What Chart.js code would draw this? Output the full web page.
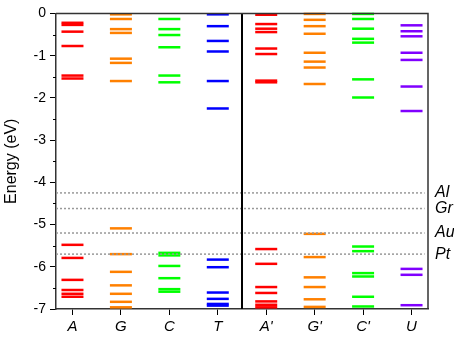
<!DOCTYPE html>
<html>
<head>
<meta charset="utf-8">
<script src="https://cdn.jsdelivr.net/npm/chart.js@4/dist/chart.umd.min.js"></script>
<style>
  body { margin: 0; background: #fff; }
  #wrap { width: 454px; height: 337px; }
</style>
</head>
<body>
<div id="wrap"><canvas id="mycanvas"></canvas></div>
<script>
// categories on the x axis
var categories = ['A', 'G', 'C', 'T', "A'", "G'", "C'", 'U'];

// energy levels (eV) for each category
var levelsA  = [-0.22, -0.27, -0.43, -0.77, -1.47, -1.54, -5.48, -5.79, -6.31, -6.55, -6.64, -6.71];
var levelsG  = [-0.02, -0.13, -0.37, -0.46, -1.07, -1.17, -1.60, -5.09, -5.70, -6.12, -6.44, -6.64, -6.83, -6.96];
var levelsC  = [-0.13, -0.37, -0.51, -0.80, -1.47, -1.63, -5.67, -5.73, -5.98, -6.27, -6.53, -6.59];
var levelsT  = [-0.02, -0.30, -0.65, -0.90, -1.60, -2.25, -5.83, -6.01, -6.61, -6.76, -6.88, -6.92];
var levelsA2 = [-0.03, -0.25, -0.36, -0.44, -0.83, -0.96, -1.59, -1.63, -5.58, -5.93, -6.48, -6.62, -6.82, -6.90, -6.96];
var levelsG2 = [-0.01, -0.15, -0.30, -0.48, -0.93, -1.14, -1.28, -1.67, -5.22, -5.77, -6.25, -6.48, -6.77, -6.95];
var levelsC2 = [-0.01, -0.13, -0.36, -0.60, -0.69, -1.56, -1.99, -5.52, -5.63, -6.15, -6.23, -6.71, -6.94];
var levelsU  = [-0.28, -0.42, -0.54, -0.93, -1.10, -1.73, -2.31, -6.05, -6.19, -6.91];

var allLevels = [levelsA, levelsG, levelsC, levelsT, levelsA2, levelsG2, levelsC2, levelsU];
var colors = ['#FF0000', '#FF8000', '#00FF00', '#0000FF', '#FF0000', '#FF8000', '#00FF00', '#8000FF'];

// electrode work functions
var electrodes = ['Al', 'Gr', 'Au', 'Pt'];
var workFunctions = [-4.25, -4.62, -5.20, -5.70];

var xMin = -0.34, xMax = 7.34;

var datasets = [];
for (var i in allLevels) {
	datasets.push({
		type: 'scatter',
		data: allLevels[i].map(function(e){ return {x: Number(i), y: e}; }),
		pointStyle: 'line',
		pointRadius: 11,
		pointHoverRadius: 11,
		pointBorderWidth: 2.5,
		borderColor: colors[i],
		backgroundColor: colors[i],
		order: 2,
		clip: false
	});
}
for (var j in workFunctions) {
	datasets.push({
		type: 'line',
		data: [{x: xMin, y: workFunctions[j]}, {x: 7.27, y: workFunctions[j]}],
		borderColor: '#999999',
		borderWidth: 1.5,
		borderDash: [2, 2],
		pointRadius: 0,
		order: 1
	});
}
// divider between the two groups
datasets.push({
	type: 'line',
	data: [{x: 3.5, y: 0}, {x: 3.5, y: -7}],
	borderColor: '#000000',
	borderWidth: 2,
	pointRadius: 0,
	order: 0
});

var extras = {
	id: 'extras',
	afterDraw: function(chart) {
		var ctx = chart.ctx;
		var a = chart.chartArea;
		var ys = chart.scales.y;
		ctx.save();
		// top and right frame
		ctx.strokeStyle = '#333333';
		ctx.lineWidth = 1.5;
		ctx.beginPath();
		ctx.moveTo(a.left, a.top);
		ctx.lineTo(a.right, a.top);
		ctx.lineTo(a.right, a.bottom);
		ctx.stroke();
		// minor y ticks
		ctx.strokeStyle = '#000000';
		ctx.lineWidth = 1;
		for (var v = -6.5; v < 0; v += 1) {
			var py = Math.round(ys.getPixelForValue(v)) + 0.5;
			ctx.beginPath();
			ctx.moveTo(a.left - 3, py);
			ctx.lineTo(a.left, py);
			ctx.stroke();
		}
		// electrode labels
		ctx.fillStyle = '#000000';
		ctx.font = 'italic 16px "Liberation Sans", Arial, sans-serif';
		ctx.textBaseline = 'middle';
		ctx.textAlign = 'left';
		for (var k in electrodes) {
			ctx.fillText(electrodes[k], a.right + 7, ys.getPixelForValue(workFunctions[k]));
		}
		ctx.restore();
	}
};

var ctx = document.getElementById('mycanvas');
var chart = new Chart(ctx, {
	data: { datasets: datasets },
	options: {
		responsive: true,
		maintainAspectRatio: false,
		animation: false,
		events: [],
		layout: { padding: { left: 0, right: 26, top: 10, bottom: 0 } },
		plugins: { legend: { display: false }, tooltip: { enabled: false } },
		scales: {
			x: {
				type: 'linear',
				min: xMin,
				max: xMax,
				afterBuildTicks: function(scale) {
					scale.ticks = categories.map(function(c, i){ return {value: i}; });
				},
				afterFit: function(scale) { scale.height = 28; },
				grid: { drawOnChartArea: false, tickLength: 6, tickColor: '#000000' },
				border: { color: '#333333', width: 1.5 },
				ticks: {
					padding: 3,
					color: '#000000',
					font: { family: '"Liberation Sans", Arial, sans-serif', size: 15, style: 'italic' },
					callback: function(value) { return categories[value]; }
				}
			},
			y: {
				type: 'linear',
				min: -7,
				max: 0,
				afterFit: function(scale) { scale.width = 56; },
				grid: { drawOnChartArea: false, tickLength: 6, tickColor: '#000000' },
				border: { color: '#333333', width: 1.5 },
				ticks: {
					stepSize: 1,
					padding: 4,
					color: '#000000',
					font: { family: '"Liberation Sans", Arial, sans-serif', size: 14 }
				},
				title: {
					display: true,
					text: 'Energy (eV)',
					color: '#000000',
					padding: { top: 2, bottom: 0 },
					font: { family: '"Liberation Sans", Arial, sans-serif', size: 16 }
				}
			}
		}
	},
	plugins: [extras]
});
</script>
</body>
</html>
